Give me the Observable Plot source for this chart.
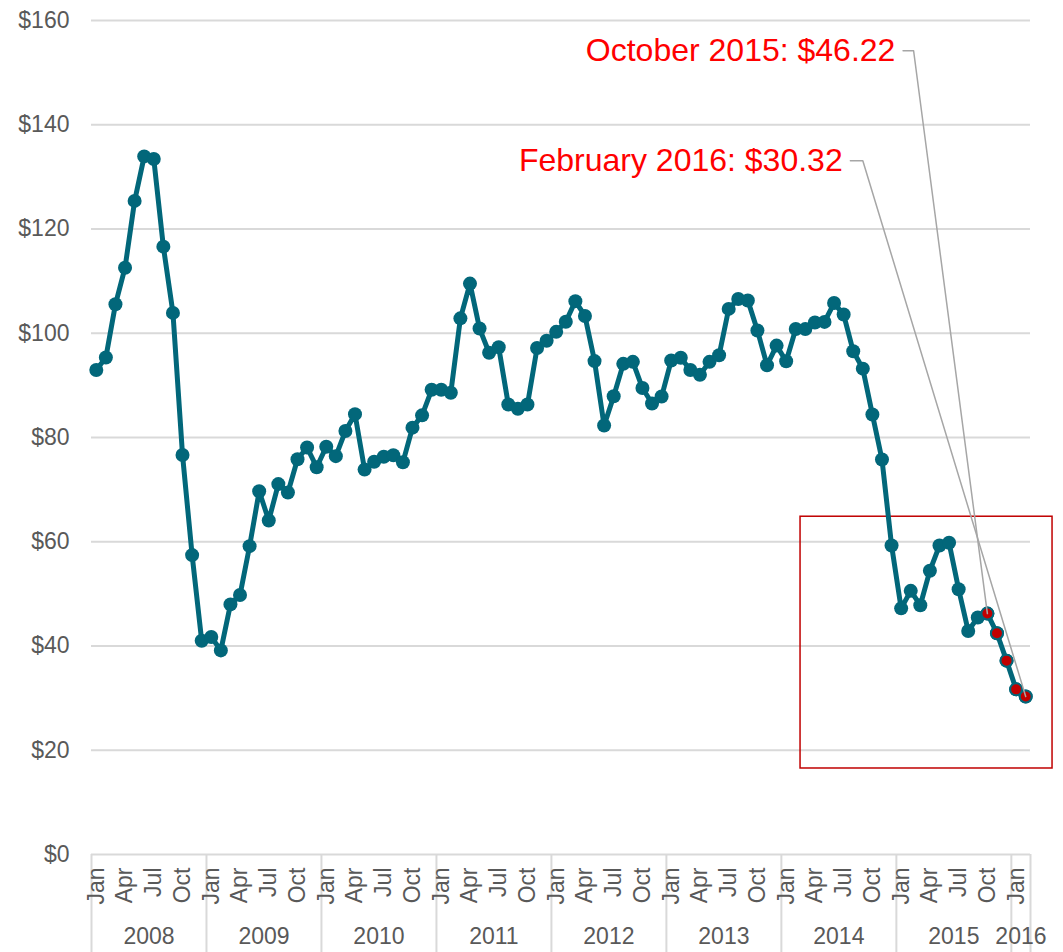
<!DOCTYPE html>
<html>
<head>
<meta charset="utf-8">
<script src="https://cdn.jsdelivr.net/npm/d3@7"></script>
<script src="https://cdn.jsdelivr.net/npm/@observablehq/plot@0.6"></script>
<style>
  html, body { margin: 0; padding: 0; background: #fff; }
  #chart { width: 1063px; height: 952px; }
</style>
</head>
<body>
<div id="chart"></div>
<script>
// ---- Data (monthly price, USD) ----
const years = [2008, 2009, 2010, 2011, 2012, 2013, 2014, 2015, 2016];
const prices2008 = [92.95, 95.35, 105.56, 112.57, 125.39, 133.93, 133.44, 116.61, 103.90, 76.65, 57.44, 41.02];
const prices2009 = [41.74, 39.16, 47.98, 49.79, 59.16, 69.68, 64.09, 71.06, 69.46, 75.82, 78.08, 74.30];
const prices2010 = [78.22, 76.42, 81.24, 84.48, 73.84, 75.35, 76.32, 76.60, 75.24, 81.89, 84.25, 89.15];
const prices2011 = [89.17, 88.58, 102.86, 109.53, 100.90, 96.26, 97.30, 86.33, 85.52, 86.32, 97.16, 98.56];
const prices2012 = [100.27, 102.20, 106.16, 103.32, 94.66, 82.30, 87.90, 94.13, 94.51, 89.49, 86.53, 87.86];
const prices2013 = [94.76, 95.31, 92.94, 92.02, 94.51, 95.77, 104.67, 106.57, 106.29, 100.54, 93.86, 97.63];
const prices2014 = [94.62, 100.82, 100.80, 102.07, 102.18, 105.79, 103.59, 96.54, 93.21, 84.40, 75.79, 59.29];
const prices2015 = [47.22, 50.58, 47.82, 54.45, 59.27, 59.82, 50.90, 42.87, 45.48, 46.22, 42.44, 37.19];
const prices2016 = [31.68, 30.32];
const pricesByYear = [prices2008, prices2009, prices2010, prices2011, prices2012, prices2013, prices2014, prices2015, prices2016];

const monthNames = ["Jan","Feb","Mar","Apr","May","Jun","Jul","Aug","Sep","Oct","Nov","Dec"];
const labeledMonths = ["Jan","Apr","Jul","Oct"];
const yTicks = [0, 20, 40, 60, 80, 100, 120, 140, 160];
const highlightedMonths = ["2015-Oct","2015-Nov","2015-Dec","2016-Jan","2016-Feb"];

const annotationLabels = ["October 2015: $46.22", "February 2016: $30.32"];
const annotationTargets = ["2015-Oct", "2016-Feb"];

// ---- Build table ----
const data = [];
years.forEach((yr, yi) => {
  pricesByYear[yi].forEach((v, mi) => {
    data.push({year: yr, month: monthNames[mi], key: yr + "-" + monthNames[mi], i: data.length, value: v});
  });
});
const nMonths = data.length;
const xc = d => d.i + 0.5;
const highlighted = data.filter(d => highlightedMonths.includes(d.key));

const monthTicks = data.filter(d => labeledMonths.includes(d.month));
const yearGroups = years.map(yr => {
  const rows = data.filter(d => d.year === yr);
  return {year: yr, start: rows[0].i, end: rows[rows.length - 1].i + 1};
});
const yearBounds = [...yearGroups.map(g => g.start), nMonths];

// ---- Layout / annotation placement (in chart units) ----
const teal = "#02677a";
const red = "#c00000";
const grey = "#595959";
const axisBottom = -18.8;          // separators extend down through the category labels
const annoLayout = [
  {textX: 83.9, textY: 154.2, startX: 84.7, kneeX: 85.8},
  {textX: 78.4, textY: 133.1, startX: 79.2, kneeX: 80.5}
];
const annotations = annotationLabels.map((label, k) => {
  const t = data.find(d => d.key === annotationTargets[k]);
  return {label, target: t, ...annoLayout[k]};
});
const leaders = annotations.flatMap((a, k) => [
  {id: k, x: a.startX, y: a.textY},
  {id: k, x: a.kneeX, y: a.textY},
  {id: k, x: xc(a.target), y: a.target.value}
]);
const box = [{x1: 74.0, x2: 100.3, y1: 16.5, y2: 64.8}];

const chart = Plot.plot({
  width: 1063,
  height: 952,
  marginLeft: 91,
  marginRight: 33,
  marginTop: 20,
  marginBottom: 98,
  style: {fontFamily: "'Liberation Sans', Arial, sans-serif", fontSize: "23px", color: grey, background: "#fff", overflow: "visible"},
  x: {domain: [0, nMonths], axis: null},
  y: {domain: [0, 160], axis: null},
  marks: [
    Plot.gridY(yTicks, {stroke: "#d9d9d9", strokeOpacity: 1, strokeWidth: 2}),
    Plot.axisY(yTicks, {tickSize: 0, tickPadding: 22, tickFormat: d => "$" + d, fill: grey, fontSize: 23}),
    Plot.ruleX(yearBounds, {x: d => d, y1: 0, y2: axisBottom, stroke: "#d9d9d9", strokeWidth: 2}),
    Plot.text(monthTicks, {x: xc, y: 0, text: "month", rotate: -90, textAnchor: "end", lineAnchor: "middle", dy: 13, fill: grey, fontSize: 23}),
    Plot.text(yearGroups, {x: g => (g.start + g.end) / 2, y: 0, text: g => String(g.year), dy: 82, lineAnchor: "middle", fill: grey, fontSize: 23}),
    Plot.rect(box, {x1: "x1", x2: "x2", y1: "y1", y2: "y2", fill: "none", stroke: red, strokeWidth: 1.5}),
    Plot.line(data, {x: xc, y: "value", stroke: teal, strokeWidth: 5, strokeLinejoin: "round"}),
    Plot.dot(data, {x: xc, y: "value", r: 7, fill: teal}),
    Plot.dot(highlighted, {x: xc, y: "value", r: 6, fill: red, stroke: teal, strokeWidth: 2}),
    Plot.line(leaders, {x: "x", y: "y", z: "id", stroke: "#a6a6a6", strokeWidth: 1.5}),
    Plot.text(annotations, {x: "textX", y: "textY", text: "label", textAnchor: "end", lineAnchor: "middle", fill: "#ff0000", fontSize: 32})
  ]
});
document.getElementById("chart").appendChild(chart);
</script>
</body>
</html>
